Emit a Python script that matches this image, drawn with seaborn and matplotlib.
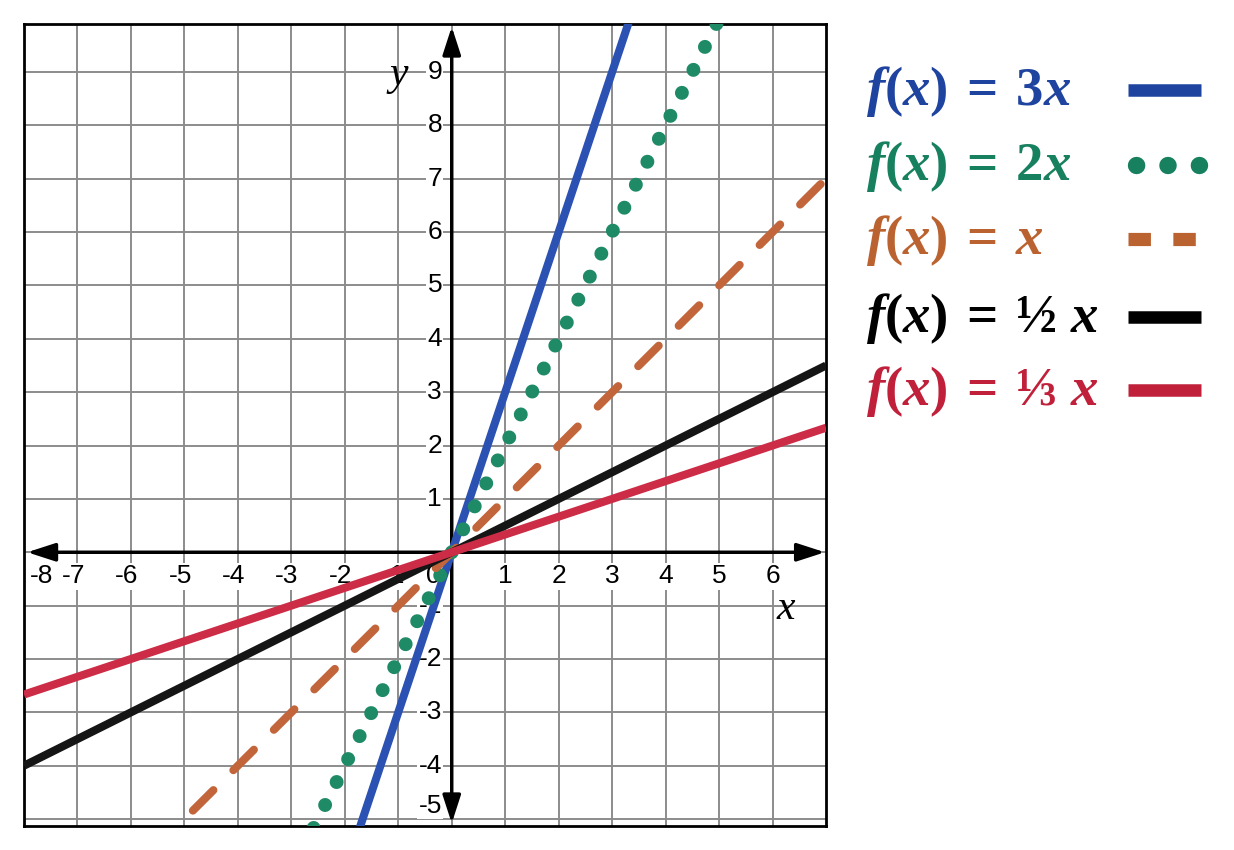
import numpy as np
import pandas as pd
import matplotlib
matplotlib.use("Agg")
import matplotlib.pyplot as plt
from matplotlib.lines import Line2D
import seaborn as sns

# functions f(x) = k*x
slopes = [3, 2, 1, 1 / 2, 1 / 3]
labels = [r"$f(x)\:=\:3x$", r"$f(x)\:=\:2x$", r"$f(x)\:=\:x$",
          r"$f(x)\:=\:½\ x$", r"$f(x)\:=\:⅓\ x$"]
line_colors = ["#2b52b3", "#1f8a66", "#c2653a", "#151515", "#cd2c47"]
text_colors = ["#1f449f", "#17805f", "#bb6330", "#000000", "#c0203a"]
x_ends = [-8, 7]
x_ticks = list(range(-8, 7))
y_ticks = [-5, -4, -3, -2, -1, 1, 2, 3, 4, 5, 6, 7, 8, 9]

sns.set_style("white")
plt.rcParams["font.family"] = ["Liberation Sans", "DejaVu Sans"]
plt.rcParams["text.color"] = "black"
plt.rcParams["mathtext.fontset"] = "custom"
plt.rcParams["mathtext.rm"] = "Liberation Serif:bold"
plt.rcParams["mathtext.bf"] = "Liberation Serif:bold"
plt.rcParams["mathtext.it"] = "Liberation Serif:italic:bold"

W, H = 1234, 850
fig = plt.figure(figsize=(W / 100, H / 100), dpi=100)
ax = fig.add_axes([24 / W, 24 / H, 802 / W, 802 / H])
ax.set_xlim(-8, 7)
ax.set_ylim(-5.13, 9.9)

# grid
ax.set_xticks(range(-7, 7))
ax.set_yticks(range(-5, 10))
ax.grid(color="#8c8c8c", lw=1.4, zorder=0)
ax.set_axisbelow(True)
ax.tick_params(length=0, labelbottom=False, labelleft=False)
for s in ax.spines.values():
    s.set_linewidth(2)
    s.set_color("black")

# tick labels with white background
box = dict(facecolor="white", edgecolor="none", pad=1)
for t in x_ticks:
    if t == 0:
        xp = -0.35
    elif t < 0:
        xp = max(t - 0.08, -7.68)
    else:
        xp = t
    ax.text(xp, -0.45, str(t), ha="center", va="center", fontsize=19,
            color="black", bbox=box, zorder=2)
for t in y_ticks:
    yp = max(t, -4.75)
    ax.text(-0.18, yp, str(t), ha="right", va="center", fontsize=19,
            color="black", bbox=box, zorder=2)

# axes with arrows
arrow = dict(arrowstyle="<|-|>,head_length=1.7,head_width=0.55", lw=2.5,
             color="black", shrinkA=0, shrinkB=0)
ax.annotate("", xy=(6.98, 0), xytext=(-7.94, 0), arrowprops=arrow, zorder=3)
ax.annotate("", xy=(0, 9.85), xytext=(0, -5.08), arrowprops=arrow, zorder=3)
ax.text(-0.99, 8.95, "y", fontsize=30, style="italic", color="black",
        family="Liberation Serif", ha="center", va="center", zorder=2)
ax.text(6.24, -1.05, "x", fontsize=30, style="italic", color="black",
        family="Liberation Serif", ha="center", va="center", zorder=2)

# function lines
df = pd.DataFrame([(lab, x, k * x) for lab, k in zip(labels, slopes) for x in x_ends],
                  columns=["f", "x", "y"])
styles = [
    dict(lw=5.8, solid_capstyle="butt"),
    dict(lw=10, linestyle=(0, (0.01, 1.84)), dash_capstyle="round"),
    dict(lw=5.8, linestyle=(0, (3.6, 3.5)), dash_capstyle="round"),
    dict(lw=5.8, solid_capstyle="butt"),
    dict(lw=5.8, solid_capstyle="butt"),
]
order = [1, 0, 2, 3, 4]
for i in order:
    sub = df[df["f"] == labels[i]]
    sns.lineplot(data=sub, x="x", y="y", ax=ax, color=line_colors[i],
                 zorder=5 + i, legend=False, **styles[i])
ax.set_xlim(-8, 7)
ax.set_ylim(-5.13, 9.9)
ax.set_xlabel("")
ax.set_ylabel("")

# legend drawn by hand: text left, sample right
baselines = [105, 180, 254, 332, 405]
sample_styles = [
    dict(lw=9, solid_capstyle="butt"),
    dict(lw=12.5, linestyle=(0, (0.01, 1.8)), dash_capstyle="round"),
    dict(lw=9.5, linestyle=(0, (1.7, 1.7)), dash_capstyle="butt"),
    dict(lw=9, solid_capstyle="butt"),
    dict(lw=9, solid_capstyle="butt"),
]
for i in range(len(labels)):
    yb = 1 - baselines[i] / H
    fig.text(866 / W, yb, labels[i], color=text_colors[i], fontsize=39.5,
             ha="left", va="baseline")
    yh = 1 - (baselines[i] - 15) / H
    if i == 1:
        xs = [1136 / W, 1200 / W]
    elif i == 2:
        xs = [1128 / W, 1204 / W]
    else:
        xs = [1128 / W, 1201 / W]
    fig.add_artist(Line2D(xs, [yh, yh], color=text_colors[i],
                          transform=fig.transFigure, **sample_styles[i]))

fig.savefig("out.png", dpi=100)
